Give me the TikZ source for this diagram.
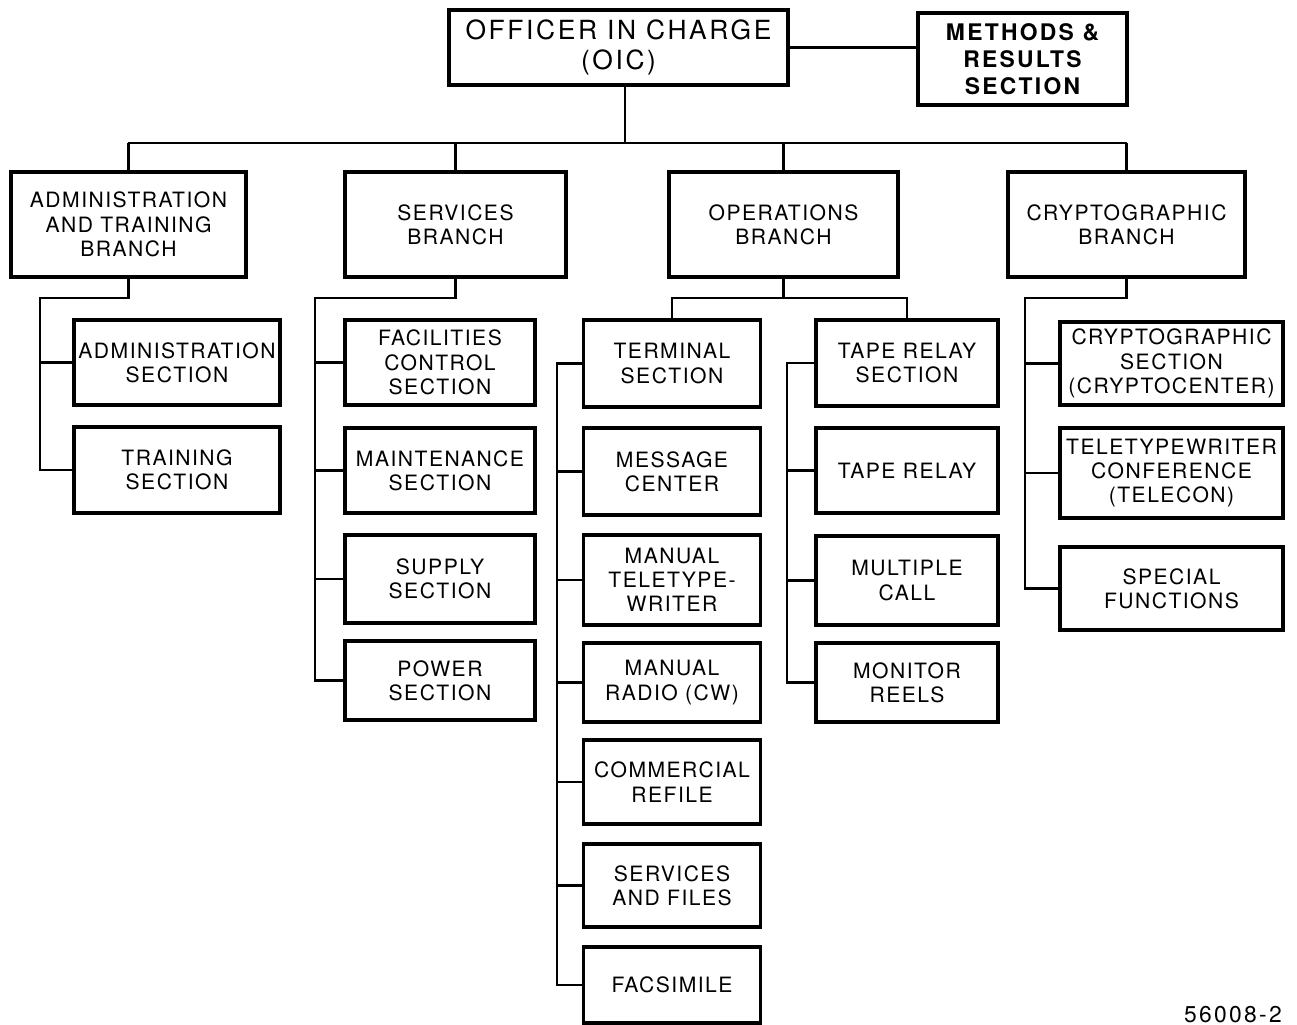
\documentclass[tikz,border=0pt]{standalone}
\usepackage{fontspec}
\newfontfamily\lettering[LetterSpace=7]{TeX Gyre Heros}
\newfontfamily\letteringwide[LetterSpace=10]{TeX Gyre Heros}
\tikzset{
  box/.style={draw, line width=1pt, align=center, inner sep=0pt,
    font=\lettering\fontsize{6}{6.9}\selectfont},
  link/.style={line width=0.65pt},
}
\begin{document}
\begin{tikzpicture}[x=0.01cm, y=-0.01cm]
\useasboundingbox (0,0) rectangle (1297,1024);

% head
\node[box, minimum width=3.39cm, minimum height=0.75cm,
  font=\letteringwide\fontsize{7.5}{8.5}\selectfont] (oic) at (618.5,47.5) {OFFICER IN CHARGE\\(OIC)};
\node[box, minimum width=2.09cm, minimum height=0.92cm,
  font=\letteringwide\bfseries\fontsize{6.5}{7.7}\selectfont] (methods) at (1022.5,59) {METHODS \&\\RESULTS\\SECTION};

% branches
\node[box, minimum width=2.35cm, minimum height=1.05cm] (admin) at (128.5,224.5) {ADMINISTRATION\\AND TRAINING\\BRANCH};
\node[box, minimum width=2.21cm, minimum height=1.05cm] (services) at (455.5,224.5) {SERVICES\\BRANCH};
\node[box, minimum width=2.29cm, minimum height=1.05cm] (operations) at (783.5,224.5) {OPERATIONS\\BRANCH};
\node[box, minimum width=2.37cm, minimum height=1.05cm] (crypto) at (1126.5,224.5) {CRYPTOGRAPHIC\\BRANCH};

% administration and training
\node[box, minimum width=2.06cm, minimum height=0.85cm] (admsec) at (177,362.5) {ADMINISTRATION\\SECTION};
\node[box, minimum width=2.06cm, minimum height=0.86cm] (trainsec) at (177,470) {TRAINING\\SECTION};

% services
\node[box, minimum width=1.90cm, minimum height=0.85cm] (facsec) at (440,362.5) {FACILITIES\\CONTROL\\SECTION};
\node[box, minimum width=1.90cm, minimum height=0.85cm] (maintsec) at (440,470.5) {MAINTENANCE\\SECTION};
\node[box, minimum width=1.90cm, minimum height=0.88cm] (supplysec) at (440,579) {SUPPLY\\SECTION};
\node[box, minimum width=1.90cm, minimum height=0.79cm] (powersec) at (440,680.5) {POWER\\SECTION};

% operations, terminal side
\node[box, minimum width=1.77cm, minimum height=0.87cm] (termsec) at (672,363.5) {TERMINAL\\SECTION};
\node[box, minimum width=1.77cm, minimum height=0.87cm] (msgctr) at (672,471.5) {MESSAGE\\CENTER};
\node[box, minimum width=1.77cm, minimum height=0.90cm] (manttw) at (672,580) {MANUAL\\TELETYPE-\\WRITER};
\node[box, minimum width=1.77cm, minimum height=0.79cm] (manradio) at (672,682.5) {MANUAL\\RADIO (CW)};
\node[box, minimum width=1.77cm, minimum height=0.84cm] (comref) at (672,782) {COMMERCIAL\\REFILE};
\node[box, minimum width=1.77cm, minimum height=0.83cm] (servfiles) at (672,885.5) {SERVICES\\AND FILES};
\node[box, minimum width=1.77cm, minimum height=0.76cm] (facsim) at (672,985) {FACSIMILE};

% operations, tape relay side
\node[box, minimum width=1.82cm, minimum height=0.86cm] (taperelsec) at (907,363) {TAPE RELAY\\SECTION};
\node[box, minimum width=1.82cm, minimum height=0.85cm] (taperel) at (907,470.5) {TAPE RELAY};
\node[box, minimum width=1.82cm, minimum height=0.89cm] (multcall) at (907,580.5) {MULTIPLE\\CALL};
\node[box, minimum width=1.82cm, minimum height=0.79cm] (monreels) at (907,682.5) {MONITOR\\REELS};

% cryptographic
\node[box, minimum width=2.23cm, minimum height=0.83cm] (cryptosec) at (1171.5,363.5) {CRYPTOGRAPHIC\\SECTION\\(CRYPTOCENTER)};
\node[box, minimum width=2.23cm, minimum height=0.90cm] (telecon) at (1171.5,473) {TELETYPEWRITER\\CONFERENCE\\(TELECON)};
\node[box, minimum width=2.23cm, minimum height=0.83cm] (specfunc) at (1171.5,588.5) {SPECIAL\\FUNCTIONS};

\node[font=\letteringwide\fontsize{6.5}{7}\selectfont, inner sep=0pt] (fignum) at (1233,1015) {56008-2};

% top lines
\coordinate (barL) at (128,143);
\coordinate (barR) at (1127,143);
\draw[link] (barL) -- (barR);
\draw[link] ([xshift=0.065cm]oic.south) -- ([xshift=0.065cm]oic.south |- barL);
\draw[link] (oic.east) -- (oic.east -| methods.west);
\foreach \b in {admin,services,operations,crypto}
  \draw[link] (\b.north) -- (\b.north |- barL);

% admin lines
\coordinate (admtrunk) at (40,298);
\draw[link] (admin.south) |- (admtrunk) |- (admsec.west);
\draw[link] (admtrunk) |- (trainsec.west);

% services lines
\coordinate (srvtrunk) at (315,298);
\draw[link] (services.south) |- (srvtrunk) |- (powersec.west);
\foreach \s in {facsec,maintsec,supplysec}
  \draw[link] (\s.west) -- (\s.west -| srvtrunk);

% operations lines
\coordinate (opsbar) at (785,298);
\draw[link] (operations.south) -- (operations.south |- opsbar);
\draw[link] (termsec.north) |- (opsbar) -| (taperelsec.north);
\coordinate (termtrunk) at (557,0);
\draw[link] (termsec.west) -| (termtrunk |- facsim.west) -- (facsim.west);
\foreach \s in {msgctr,manttw,manradio,comref,servfiles}
  \draw[link] (\s.west) -- (\s.west -| termtrunk);
\coordinate (tapetrunk) at (787,0);
\draw[link] (taperelsec.west) -| (tapetrunk |- monreels.west) -- (monreels.west);
\foreach \s in {taperel,multcall}
  \draw[link] (\s.west) -- (\s.west -| tapetrunk);

% crypto lines
\coordinate (crytrunk) at (1025,298);
\draw[link] (crypto.south) |- (crytrunk) |- (specfunc.west);
\foreach \s in {cryptosec,telecon}
  \draw[link] (\s.west) -- (\s.west -| crytrunk);
\end{tikzpicture}
\end{document}
